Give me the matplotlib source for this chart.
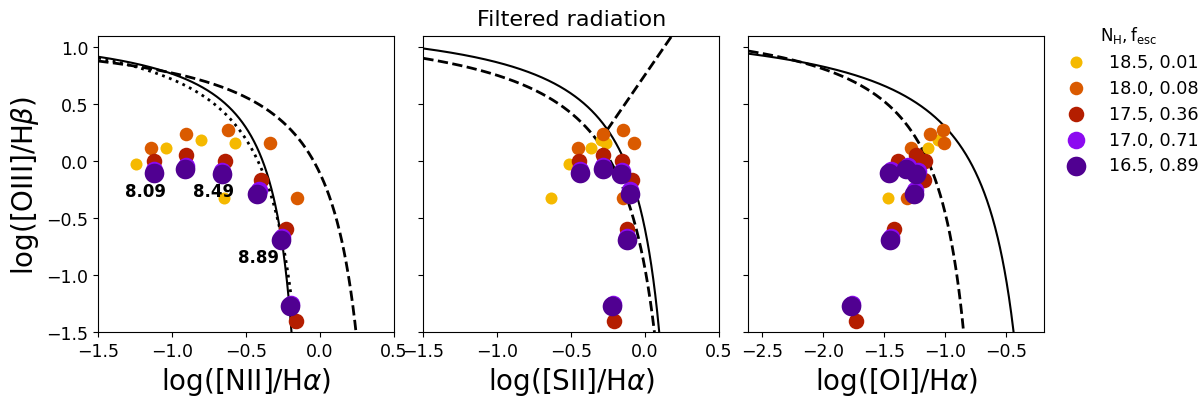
import numpy as np
import matplotlib
matplotlib.use("Agg")
import matplotlib.pyplot as plt

# legend groups: N_H, f_esc
groups = ["18.5, 0.01", "18.0, 0.08", "17.5, 0.36", "17.0, 0.71", "16.5, 0.89"]
colors = ["#F5B900", "#DA5A00", "#B41E00", "#8C0AF0", "#500091"]
sizes = [75, 95, 125, 160, 200]

# log([OIII]/Hb), same model in every panel
oiii_185 = [-0.02, 0.115, 0.185, 0.16, -0.32]
oiii_180 = [0.117, 0.235, 0.271, 0.162, -0.322]
oiii_175 = [0.0, 0.054, 0.006, -0.162, -0.595, -1.399]
oiii_170 = [-0.08, -0.045, -0.09, -0.255, -0.665, -1.258]
oiii_165 = [-0.105, -0.066, -0.115, -0.287, -0.690, -1.272]

# log([NII]/Ha)
nii_185 = [-1.247, -1.045, -0.804, -0.578, -0.651]
nii_180 = [-1.142, -0.909, -0.624, -0.340, -0.153]
nii_175 = [-1.124, -0.909, -0.646, -0.396, -0.227, -0.164]
nii_170 = [-1.12, -0.91, -0.66, -0.415, -0.258, -0.195]
nii_165 = [-1.124, -0.914, -0.665, -0.426, -0.266, -0.200]

# log([SII]/Ha)
sii_185 = [-0.514, -0.369, -0.30, -0.266, -0.640]
sii_180 = [-0.457, -0.284, -0.149, -0.076, -0.149]
sii_175 = [-0.446, -0.288, -0.159, -0.088, -0.122, -0.209]
sii_170 = [-0.44, -0.283, -0.155, -0.10, -0.12, -0.218]
sii_165 = [-0.441, -0.284, -0.160, -0.104, -0.122, -0.221]

# log([OI]/Ha)
oi_185 = [-1.39, -1.136, -1.054, -1.01, -1.463]
oi_180 = [-1.280, -1.127, -1.018, -1.007, -1.313]
oi_175 = [-1.381, -1.236, -1.162, -1.171, -1.417, -1.727]
oi_170 = [-1.445, -1.305, -1.225, -1.243, -1.445, -1.765]
oi_165 = [-1.455, -1.318, -1.236, -1.253, -1.449, -1.771]

# metallicity labels 12+log(O/H)
metal_labels = ["8.09", "8.49", "8.89"]
metal_x = [-1.18, -0.723, -0.419]
metal_y = [-0.26, -0.26, -0.841]


def hyperbola(ax, a, b, c, xmin, ls, lw):
    # y = a / (x - b) + c, left branch only, down to below the axis
    xend = b + a / (-1.7 - c)
    x = np.linspace(xmin, xend, 600)
    ax.plot(x, a / (x - b) + c, color="black", ls=ls, lw=lw)


def main():
    fig = plt.figure(figsize=(12, 4.02), dpi=100)
    w, h, b = 0.2464, 0.7363, 0.1716
    ax1 = fig.add_axes([0.0819, b, w, h])
    ax2 = fig.add_axes([0.3528, b, w, h])
    ax3 = fig.add_axes([0.6236, b, w, h])

    ys = [oiii_185, oiii_180, oiii_175, oiii_170, oiii_165]
    xs = [
        [nii_185, nii_180, nii_175, nii_170, nii_165],
        [sii_185, sii_180, sii_175, sii_170, sii_165],
        [oi_185, oi_180, oi_175, oi_170, oi_165],
    ]

    # reference lines
    hyperbola(ax1, 0.61, 0.47, 1.19, -1.5, "--", 2.0)
    hyperbola(ax1, 0.424, -0.0364, 1.2077, -1.5, "-", 1.5)
    hyperbola(ax1, 0.61, 0.05, 1.30, -1.5, ":", 2.0)

    hyperbola(ax2, 0.72, 0.32, 1.30, -1.5, "--", 2.0)
    hyperbola(ax2, 0.569, 0.298, 1.307, -1.5, "-", 1.5)
    xl = np.linspace(-0.3146, 0.3, 50)
    ax2.plot(xl, 1.89 * xl + 0.76, color="black", ls="--", lw=2.0)

    hyperbola(ax3, 0.73, -0.59, 1.33, -2.61, "--", 2.0)
    hyperbola(ax3, 0.8596, -0.1311, 1.2918, -2.61, "-", 1.5)

    for ax, xgroup in zip([ax1, ax2, ax3], xs):
        for i in range(len(groups)):
            ax.scatter(xgroup[i], ys[i], s=sizes[i], color=colors[i],
                       linewidths=0, label=groups[i], zorder=3)
        ax.set_ylim(-1.5, 1.1)
        ax.set_yticks([-1.5, -1.0, -0.5, 0.0, 0.5, 1.0])
        ax.tick_params(labelsize=12.5)

    for lab, x, y in zip(metal_labels, metal_x, metal_y):
        ax1.text(x, y, lab, fontsize=12, fontweight="bold", ha="center",
                 va="center", zorder=4)

    ax1.set_xlim(-1.5, 0.5)
    ax2.set_xlim(-1.5, 0.5)
    ax3.set_xlim(-2.61, -0.19)
    ax1.set_xticks([-1.5, -1.0, -0.5, 0.0, 0.5])
    ax2.set_xticks([-1.5, -1.0, -0.5, 0.0, 0.5])
    ax3.set_xticks([-2.5, -2.0, -1.5, -1.0, -0.5])
    ax2.set_yticklabels([])
    ax3.set_yticklabels([])

    ax1.set_ylabel(r"log([OIII]/H$\beta$)", fontsize=20)
    ax1.set_xlabel(r"log([NII]/H$\alpha$)", fontsize=20)
    ax2.set_xlabel(r"log([SII]/H$\alpha$)", fontsize=20)
    ax3.set_xlabel(r"log([OI]/H$\alpha$)", fontsize=20)
    ax2.set_title("Filtered radiation", fontsize=16, pad=8)

    ax3.legend(loc="upper left", bbox_to_anchor=(0.995, 1.095), frameon=False,
               fontsize=12.7, title=r"$\rm N_H, f_{esc}$", title_fontsize=12,
               scatterpoints=1, labelspacing=0.45, handletextpad=0.85)

    fig.savefig("out.png", dpi=100)
    plt.close(fig)


if __name__ == "__main__":
    main()
